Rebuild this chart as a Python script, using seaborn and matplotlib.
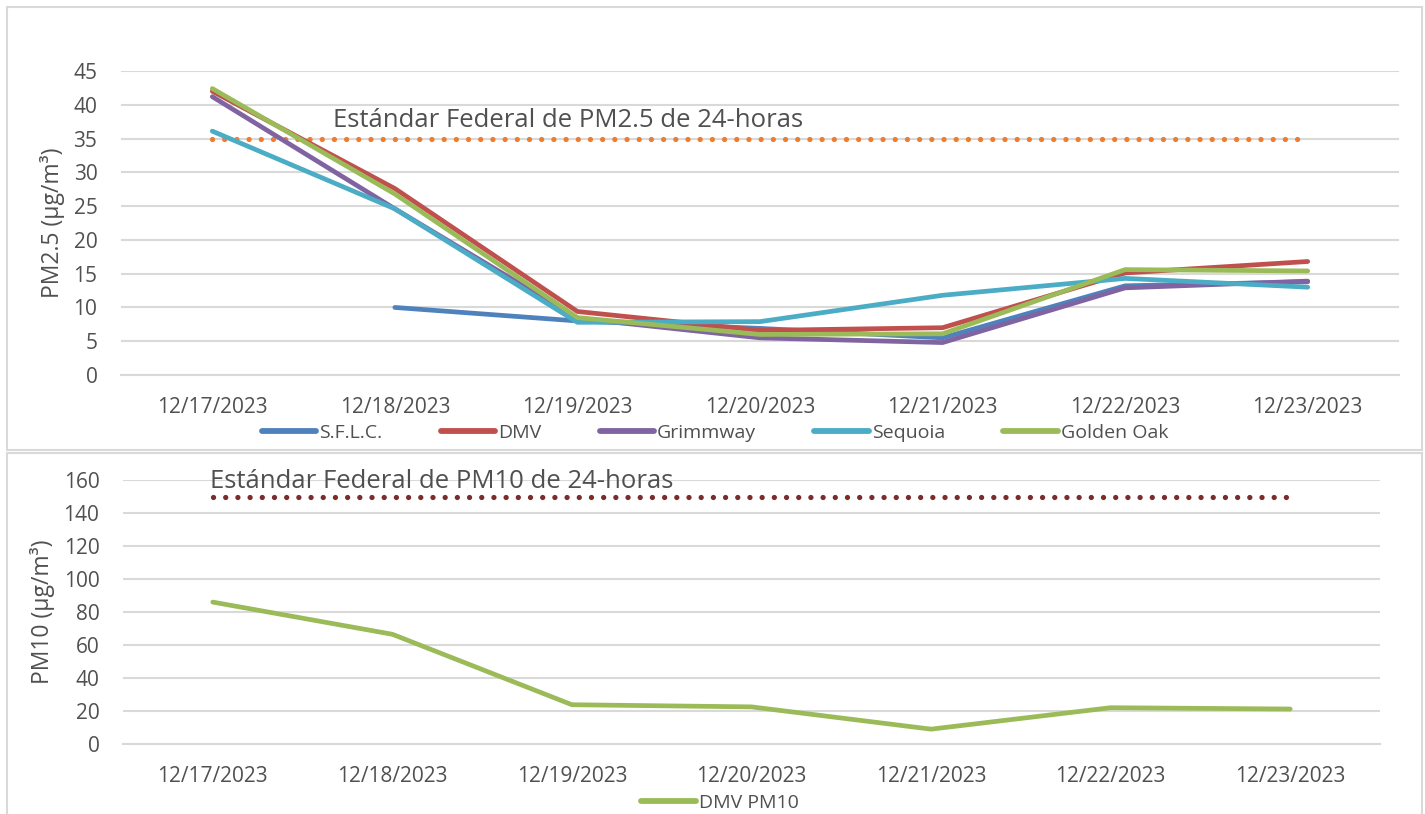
import numpy as np
import matplotlib
matplotlib.use('Agg')
import matplotlib.pyplot as plt
import pandas as pd
import seaborn as sns
from matplotlib.patches import Rectangle

dates = ['12/17/2023', '12/18/2023', '12/19/2023', '12/20/2023',
         '12/21/2023', '12/22/2023', '12/23/2023']

sflc = [np.nan, 10.0, 8.0, 6.9, 5.5, 13.2, 13.8]
dmv = [42.0, 27.6, 9.4, 6.6, 7.0, 15.1, 16.8]
grimmway = [41.2, 24.6, 8.4, 5.5, 4.8, 12.9, 13.9]
sequoia = [36.1, 24.6, 7.8, 7.9, 11.8, 14.3, 13.0]
golden_oak = [42.4, 26.8, 8.5, 6.0, 6.1, 15.6, 15.4]
pm25_std = 35

dmv_pm10 = [86.0, 66.5, 23.8, 22.5, 9.0, 22.0, 21.2]
pm10_std = 150

site_names = ['S.F.L.C.', 'DMV', 'Grimmway', 'Sequoia', 'Golden Oak']
site_colors = ['#4F81BD', '#C0504D', '#8064A2', '#4BACC6', '#9BBB59']

sns.set_theme(style='white')
plt.rcParams['font.family'] = ['Open Sans', 'DejaVu Sans']
TXT = '#505050'
GRID = '#D9D9D9'

pos = list(range(len(dates)))
df25 = pd.DataFrame({'pos': pos * 5,
                     'site': np.repeat(site_names, len(dates)),
                     'value': sflc + dmv + grimmway + sequoia + golden_oak})
df10 = pd.DataFrame({'pos': pos, 'value': dmv_pm10, 'site': 'DMV PM10'})

fig = plt.figure(figsize=(14.25, 8.14), dpi=100)
W, H = 1425, 814
# chart area frames
fig.patches.append(Rectangle((7 / W, 1 - 450 / H), 1415 / W, 443 / H, transform=fig.transFigure,
                             fill=False, edgecolor=GRID, lw=1.5))
fig.patches.append(Rectangle((7 / W, -0.01), 1415 / W, 1 - 453 / H + 0.01, transform=fig.transFigure,
                             fill=False, edgecolor=GRID, lw=1.5))

ax1 = fig.add_axes([121 / W, 1 - 375 / H, 1278 / W, 304 / H])
ax2 = fig.add_axes([123 / W, 1 - 744 / H, 1257 / W, 264 / H])


def style_axis(ax, ymax, step, ylabel):
    ax.set_xlim(-0.5, len(dates) - 0.5)
    ax.set_ylim(0, ymax)
    ax.set_yticks(np.arange(0, ymax + 1, step))
    ax.set_xticks(pos)
    ax.set_xticklabels(dates)
    ax.set_xticks(np.arange(-0.5, len(dates), 1), minor=True)
    ax.tick_params(axis='x', which='major', length=0, pad=16, labelsize=15, labelcolor=TXT)
    ax.tick_params(axis='x', which='minor', length=7, width=1.5, color=GRID, direction='out')
    ax.tick_params(axis='y', length=0, pad=17, labelsize=15, labelcolor=TXT)
    ax.yaxis.grid(True, color=GRID, lw=1.5)
    ax.set_axisbelow(True)
    for s in ['top', 'right', 'left']:
        ax.spines[s].set_visible(False)
    ax.spines['bottom'].set_color(GRID)
    ax.spines['bottom'].set_linewidth(1.5)
    ax.set_xlabel('')
    ax.set_ylabel(ylabel, fontsize=16.5, color=TXT, labelpad=6)


# top chart: PM2.5
sns.lineplot(data=df25, x='pos', y='value', hue='site', palette=site_colors,
             hue_order=site_names, lw=3.4, ax=ax1, legend=False,
             solid_capstyle='round', solid_joinstyle='round')
ax1.plot([pos[0], pos[-1]], [pm25_std, pm25_std], color='#ED7D31', lw=3.8,
         ls=(0, (0.01, 2.3)), dash_capstyle='round', zorder=1)
ax1.text(0.66, 37.6, 'Estándar Federal de PM2.5 de 24-horas', fontsize=18.5,
         color=TXT, va='center', ha='left')
style_axis(ax1, 45, 5, 'PM2.5 (µg/m³)')

handles = [plt.Line2D([], [], color=c, lw=4.2, solid_capstyle='round') for c in site_colors]
fig.legend(handles, site_names, loc='center', bbox_to_anchor=(715 / W, 1 - 433 / H), ncol=5,
           frameon=False, fontsize=14, labelcolor=TXT, handlelength=2.8,
           handletextpad=0.15, columnspacing=3.0)

# bottom chart: PM10
sns.lineplot(data=df10, x='pos', y='value', color='#9BBB59', lw=3.4, ax=ax2,
             solid_capstyle='round', solid_joinstyle='round')
ax2.plot([pos[0], pos[-1]], [pm10_std, pm10_std], color='#7B2C2C', lw=3.8,
         ls=(0, (0.01, 2.3)), dash_capstyle='round', zorder=1)
ax2.text(-0.016, 158.8, 'Estándar Federal de PM10 de 24-horas', fontsize=18.5,
         color=TXT, va='center', ha='left')
style_axis(ax2, 160, 20, 'PM10 (µg/m³)')

h10 = [plt.Line2D([], [], color='#9BBB59', lw=4.2, solid_capstyle='round')]
fig.legend(h10, ['DMV PM10'], loc='center', bbox_to_anchor=(720 / W, 1 - 803 / H),
           frameon=False, fontsize=14, labelcolor=TXT, handlelength=2.8, handletextpad=0.15)

fig.savefig('out.png', dpi=100, facecolor='white')
